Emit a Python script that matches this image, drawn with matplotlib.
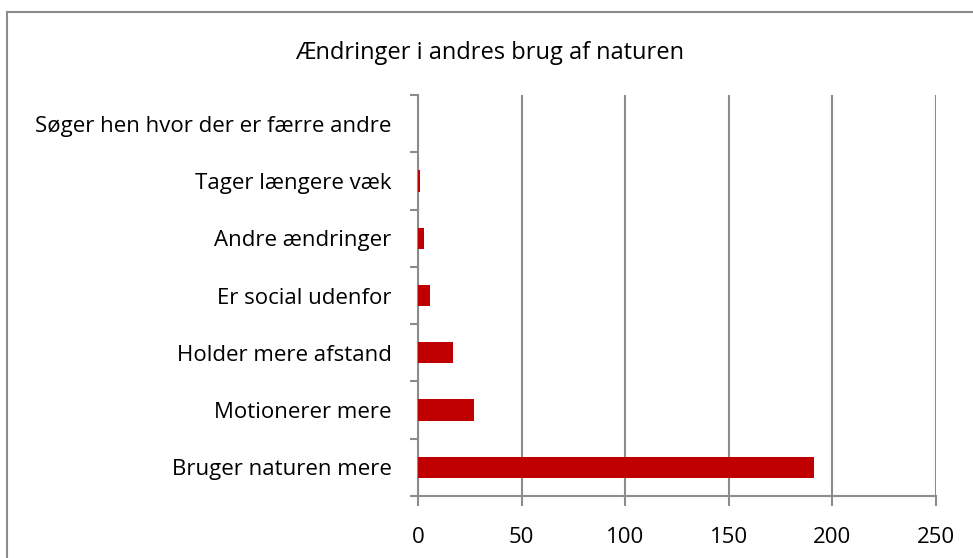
import matplotlib
matplotlib.use('Agg')
import matplotlib.pyplot as plt
from matplotlib.lines import Line2D

plt.rcParams['font.family'] = ['Open Sans', 'DejaVu Sans']

categories = ['Bruger naturen mere', 'Motionerer mere', 'Holder mere afstand',
              'Er social udenfor', 'Andre ændringer', 'Tager længere væk',
              'Søger hen hvor der er færre andre']
values = [191, 27, 17, 6, 3, 1, 0]
xticks = [0, 50, 100, 150, 200, 250]
title = 'Ændringer i andres brug af naturen'

GRID = '#8c8c8c'
BAR = '#c00000'
FS = 16

fig = plt.figure(figsize=(9.73, 5.58), dpi=100)
ax = fig.add_axes([418/973, 1 - 496/558, (936 - 418)/973, (496 - 95)/558])

pos = list(range(len(categories)))
ax.barh(pos, values, height=0.37, color=BAR, zorder=3)

ax.set_xlim(0, 250)
ax.set_ylim(-0.5, len(categories) - 0.5)
ax.set_xticks(xticks)
ax.set_xticklabels([str(t) for t in xticks], fontsize=FS)
ax.set_yticks(pos)
ax.set_yticklabels(categories, fontsize=FS)
ax.tick_params(axis='y', length=0, pad=19)
ax.tick_params(axis='x', length=7, width=1.5, color=GRID, pad=15)
# tick marks at category boundaries
ax.set_yticks([p - 0.5 for p in pos] + [len(pos) - 0.5], minor=True)
ax.tick_params(axis='y', which='minor', length=6, width=1.5, color=GRID)

ax.grid(axis='x', color=GRID, lw=1.5, zorder=0)
for s in ['top', 'right']:
    ax.spines[s].set_visible(False)
for s in ['left', 'bottom']:
    ax.spines[s].set_color(GRID)
    ax.spines[s].set_linewidth(1.5)

fig.text(490/973, 1 - 53/558, title, ha='center', va='center', fontsize=17)

# outer chart border (left and top edges visible)
x0, y0 = 7/973, 1 - 12/558
fig.add_artist(Line2D([x0, x0], [0, y0], color=GRID, lw=1.5, transform=fig.transFigure))
fig.add_artist(Line2D([x0, 1], [y0, y0], color=GRID, lw=1.5, transform=fig.transFigure))

fig.savefig('out.png', dpi=100, facecolor='white')
